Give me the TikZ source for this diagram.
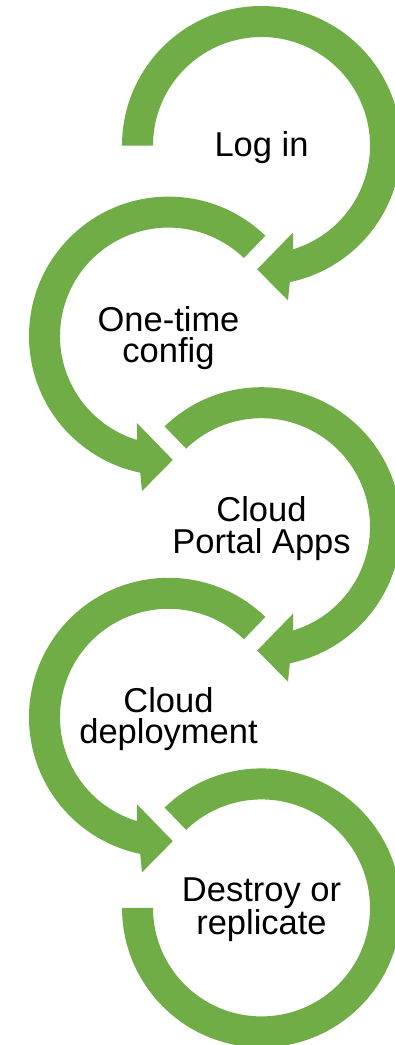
\documentclass[tikz,border=0pt]{standalone}
\usepackage{fontspec}
\setmainfont{Liberation Sans}
\usetikzlibrary{calc}
\definecolor{ringgreen}{HTML}{70AD47}
\tikzset{
  ringfill/.style={fill=ringgreen, draw=none},
  steplabel/.style={align=center, inner sep=0pt, yshift=-2pt,
    font=\fontsize{34.5}{31.5}\selectfont, text=black}
}
\begin{document}
\begin{tikzpicture}[x=1pt,y=1pt]
\useasboundingbox (0,0) rectangle (395,-1045);
\clip (0,0) rectangle (395,-1045);
\coordinate (c1) at (261.5,-145.5);
\coordinate (c2) at (168.5,-336.1);
\coordinate (c3) at (261.5,-526.7);
\coordinate (c4) at (168.5,-717.3);
\coordinate (c5) at (261.5,-907.9);
% ring 1 (clockwise, starts at left)
\fill[ringfill] ($(c1)+(180:139.5)$) arc[start angle=180, end angle=-78.3, radius=139.5]
  -- ($(c1)+(26.5,-155)$) -- ($(c1)+(-4.3,-123.8)$) -- ($(c1)+(31.5,-87)$)
  -- ($(c1)+(-73:108.5)$) arc[start angle=-73, end angle=180, radius=108.5] -- cycle;
% ring 2 (counter-clockwise)
\fill[ringfill] ($(c2)+(46:139.5)$) arc[start angle=46, end angle=258.3, radius=139.5]
  -- ($(c2)+(-26.5,-155)$) -- ($(c2)+(4.3,-123.8)$) -- ($(c2)+(-31.5,-87)$)
  -- ($(c2)+(253:108.5)$) arc[start angle=253, end angle=46, radius=108.5] -- cycle;
% ring 3 (clockwise)
\fill[ringfill] ($(c3)+(134:139.5)$) arc[start angle=134, end angle=-78.3, radius=139.5]
  -- ($(c3)+(26.5,-155)$) -- ($(c3)+(-4.3,-123.8)$) -- ($(c3)+(31.5,-87)$)
  -- ($(c3)+(-73:108.5)$) arc[start angle=-73, end angle=134, radius=108.5] -- cycle;
% ring 4 (counter-clockwise)
\fill[ringfill] ($(c4)+(46:139.5)$) arc[start angle=46, end angle=258.3, radius=139.5]
  -- ($(c4)+(-26.5,-155)$) -- ($(c4)+(4.3,-123.8)$) -- ($(c4)+(-31.5,-87)$)
  -- ($(c4)+(253:108.5)$) arc[start angle=253, end angle=46, radius=108.5] -- cycle;
% ring 5 (clockwise, ends at left, no head)
\fill[ringfill] ($(c5)+(134:139.5)$) arc[start angle=134, end angle=-180, radius=139.5]
  -- ($(c5)+(-180:108.5)$) arc[start angle=-180, end angle=134, radius=108.5] -- cycle;
% labels
\node[steplabel] (t1) at (c1) {Log in};
\node[steplabel] (t2) at (c2) {One-time\\config};
\node[steplabel] (t3) at (c3) {Cloud\\Portal Apps};
\node[steplabel] (t4) at (c4) {Cloud\\deployment};
\node[steplabel] (t5) at (c5) {Destroy or\\replicate};
\end{tikzpicture}
\end{document}
